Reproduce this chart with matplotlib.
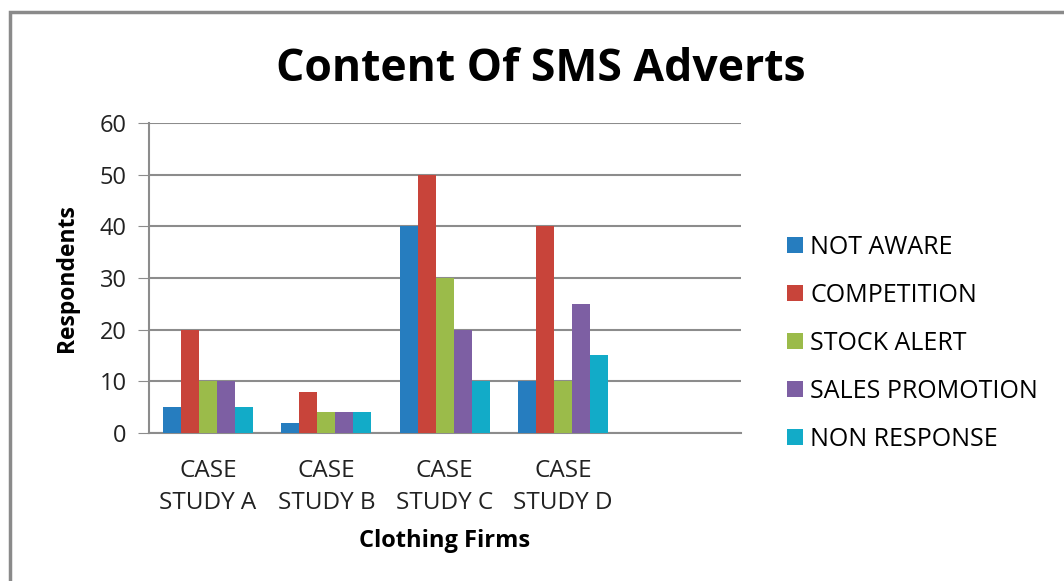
import numpy as np
import matplotlib
matplotlib.use("Agg")
import matplotlib.pyplot as plt
from matplotlib.patches import Rectangle

plt.rcParams['font.family'] = ['Open Sans', 'DejaVu Sans']

# data
firms = ['CASE\nSTUDY A', 'CASE\nSTUDY B', 'CASE\nSTUDY C', 'CASE\nSTUDY D']
series = ['NOT AWARE', 'COMPETITION', 'STOCK ALERT', 'SALES PROMOTION', 'NON RESPONSE']
not_aware = [5, 2, 40, 10]
competition = [20, 8, 50, 40]
stock_alert = [10, 4, 30, 10]
sales_promo = [10, 4, 20, 25]
non_response = [5, 4, 10, 15]
colors = ['#267dbf', '#c8443a', '#9bbb4a', '#7d5fa3', '#12abc8']

values = [not_aware, competition, stock_alert, sales_promo, non_response]

fig = plt.figure(figsize=(10.64, 5.81), dpi=100)
ax = fig.add_axes([0.140, 0.255, 0.556, 0.533])

# chart frame (only left/top edges visible in the picture)
fig.patches.append(Rectangle((10 / 1064, -0.05), 1.2, 1 - 12 / 581 + 0.05,
                             transform=fig.transFigure, fill=False,
                             edgecolor='#8a8a8a', lw=2.5))

x = np.arange(len(firms))
w = 0.152
for i, (name, vals) in enumerate(zip(series, values)):
    ax.bar(x + (i - 2) * w, vals, w, color=colors[i], label=name, zorder=3)

# empty fifth slot on the right, as in the original
ax.set_xlim(-0.5, 4.5)
ax.set_ylim(0, 60)
ax.set_yticks(range(0, 61, 10))
ax.yaxis.grid(True, color='#8c8c8c', lw=1.5, zorder=0)
ax.set_xticks(x)
ax.set_xticklabels(firms, fontsize=17.5, linespacing=1.42, color='#222222')
ax.tick_params(axis='x', length=0, pad=19)
ax.tick_params(axis='y', labelsize=17, length=8, color='#8c8c8c', pad=8,
               labelcolor='#222222')
for s in ['top', 'right']:
    ax.spines[s].set_visible(False)
for s in ['left', 'bottom']:
    ax.spines[s].set_color('#8c8c8c')
    ax.spines[s].set_linewidth(1.5)

ax.set_xlabel('Clothing Firms', fontsize=17, fontweight='bold')
ax.set_ylabel('Respondents', fontsize=16.5, fontweight='bold')
ax.xaxis.set_label_coords(0.5, -0.348)
ax.yaxis.set_label_coords(-0.1385, 0.5)
ax.xaxis.label.set_va('center')
ax.yaxis.label.set_va('center')

fig.text(0.508, 0.881, 'Content Of SMS Adverts', fontsize=32,
         fontweight='bold', ha='center', va='center')

fig.legend(loc='upper left', bbox_to_anchor=(0.7275, 0.6175), frameon=False,
           fontsize=18, handlelength=0.64, handleheight=0.64,
           handletextpad=0.3, labelspacing=0.92, borderpad=0)

fig.savefig('out.png', dpi=100, facecolor='white')
